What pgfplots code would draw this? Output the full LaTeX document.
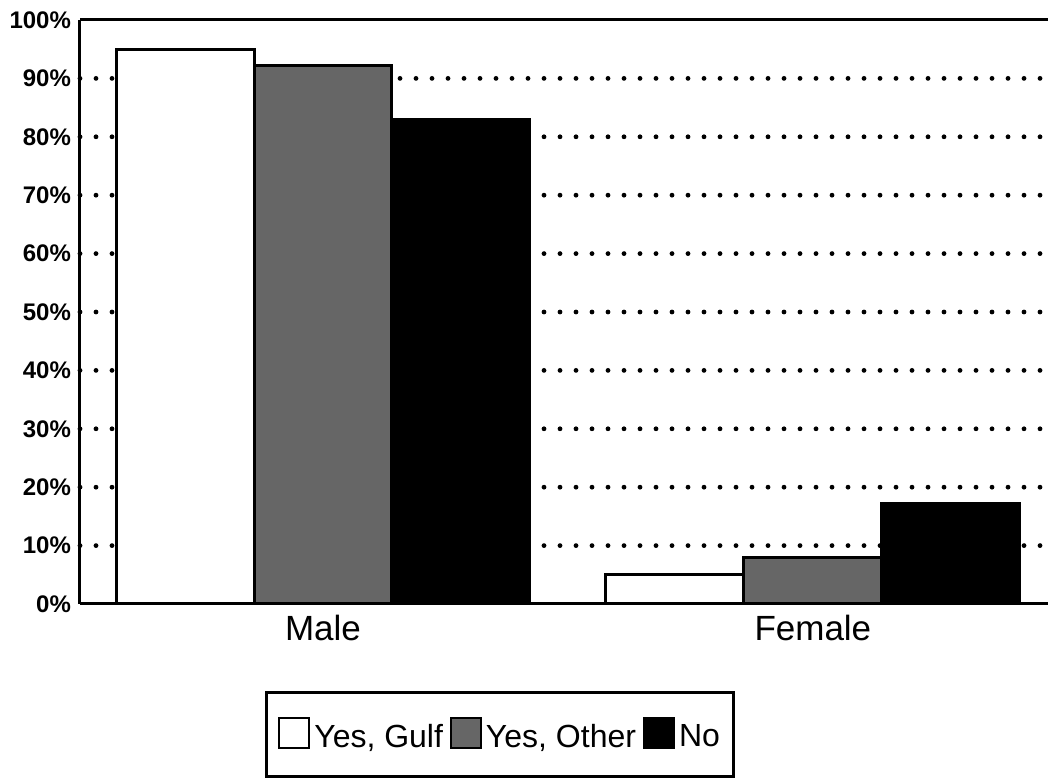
\documentclass[border=0pt]{standalone}
\usepackage{pgfplots}
\pgfplotsset{compat=1.18}
\usepackage{fontspec}
\setmainfont{Liberation Sans}

\begin{document}
\begin{tikzpicture}
\useasboundingbox (-40pt,-87.5pt) rectangle (484pt,302pt);
\begin{axis}[
    at={(0,0)}, anchor=south west,
    scale only axis, width=484pt, height=292pt,
    /pgf/number format/assume math mode=true,
    ybar=0pt, bar width=0.2816,
    xmin=-0.496, xmax=1.48, ymin=0, ymax=100,
    xtick={0,1}, xticklabels={Male,Female},
    ytick={0,10,...,100},
    yticklabel={\pgfmathprintnumber{\tick}\%},
    extra y ticks={10,20,...,90}, extra y tick labels={},
    extra y tick style={grid=major},
    major tick length=0pt,
    axis x line*=bottom, axis y line*=left,
    axis line style={-, line width=1.5pt},
    grid style={black, line width=2.4pt, line cap=round, dash pattern=on 0pt off 8pt},
    y tick label style={font=\fontsize{12}{12}\selectfont\bfseries, xshift=-1pt},
    x tick label style={font=\fontsize{17.5}{18}\selectfont, yshift=-2pt},
    clip=false,
    legend columns=3,
    legend style={at={(0.434,-0.2235)}, anchor=center, draw=black, line width=1.5pt,
        font=\fontsize{16}{18}\selectfont, inner xsep=6pt, inner ysep=12pt,
        nodes={inner sep=1pt},
        /tikz/every odd column/.append style={column sep=1pt},
        /tikz/every even column/.append style={column sep=2.5pt}},
]
\addplot[draw=black, line width=1.5pt, fill=white,
    legend image code/.code={\draw[black,line width=1pt,fill=white] (0pt,-5.5pt) rectangle (15pt,9.5pt);}]
    coordinates {(0,95) (1,5)};
\addlegendentry{Yes, Gulf}
\addplot[draw=black, line width=1.5pt, fill=black!60,
    legend image code/.code={\draw[black,line width=1pt,fill=black!60] (0pt,-5.5pt) rectangle (15pt,9.5pt);}]
    coordinates {(0,92.2) (1,8)};
\addlegendentry{Yes, Other}
\addplot[draw=black, line width=1.5pt, fill=black,
    legend image code/.code={\draw[black,line width=1pt,fill=black] (0pt,-5.5pt) rectangle (15pt,9.5pt);}]
    coordinates {(0,83) (1,17.2)};
\addlegendentry{No}
\draw[line width=1.5pt] (rel axis cs:0,1) -- (rel axis cs:1,1);
\end{axis}
\end{tikzpicture}
\end{document}
